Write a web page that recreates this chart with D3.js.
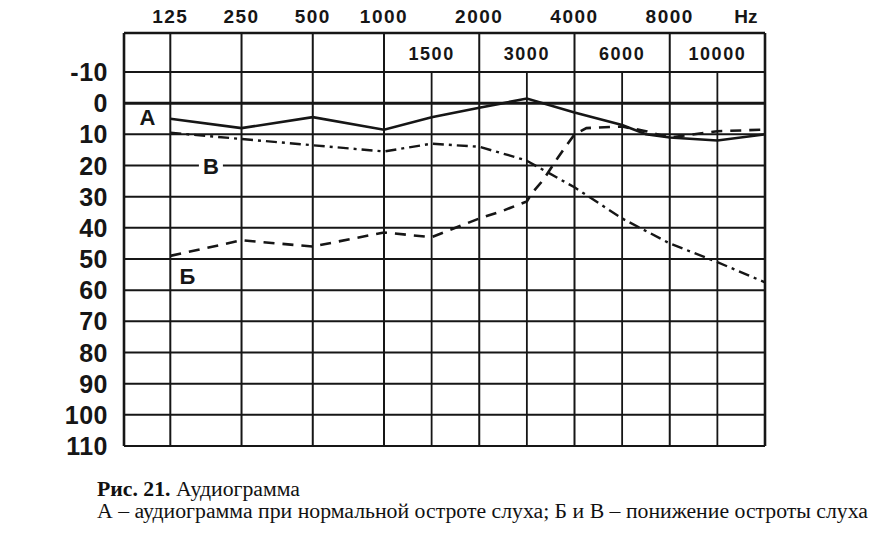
<!DOCTYPE html>
<html><head><meta charset="utf-8">
<script src="https://cdn.jsdelivr.net/npm/d3@7"></script>
<style>body{margin:0;background:#fff}</style>
</head><body><svg id="c" width="893" height="533"></svg>
<script>
// ---- data ----
const topFreqLabels = ["125","250","500","1000","2000","4000","8000"];
const topFreqs = [125,250,500,1000,2000,4000,8000];
const midFreqLabels = ["1500","3000","6000","10000"];
const midFreqs = [1500,3000,6000,10000];
const dbTicks = [-10,0,10,20,30,40,50,60,70,80,90,100,110];
const dbTickLabels = ["-10","0","10","20","30","40","50","60","70","80","90","100","110"];
const unitLabel = "Hz";

// curve А (normal hearing) - solid
const freqA = [125,250,500,1000,1500,2000,3000,4000,6000,7000,8000,10000,12000];
const dbA   = [5,8,4.5,8.5,4.5,1.5,-1.5,3,7,10,11,12,10];
// curve Б - dashed
const freqB = [125,250,500,643,1000,1500,2000,2500,3000,3100,3350,3650,4000,4500,6000,7000,8000,10000,12000];
const dbB   = [49,44,46,44.7,41.5,43,37,34.5,31.5,29,24.5,17.5,10,8,7.5,9,11,9,8.5];
// curve В - dash-dot
const freqV = [125,250,500,1000,1500,2000,2800,3000,4000,6000,8000,10000,12000];
const dbV   = [9.5,11.5,13.5,15.5,13,14,17.5,18.5,27,37,45,51,57.5];

const captionTitleBold = "Рис. 21.";
const captionTitle = " Аудиограмма";
const captionText = "А – аудиограмма при нормальной остроте слуха; Б и В – понижение остроты слуха";

// ---- scales ----
const colFreqs = [125,250,500,1000,1500,2000,3000,4000,6000,8000,10000,12000];
const colUnits = [0,1,2,3,3.5,4,4.5,5,5.5,6,6.5,7];
const u = d3.scaleLinear().domain([-0.65,3,7]).range([124,384,765]);
const x = d3.scaleLinear().domain(colFreqs).range(colUnits.map(u));
const y = d3.scaleLinear().domain([-10,110]).range([72,446]);
const gLeft = u(-0.65), gRight = u(7), gTop = 33, gBottom = y(110);

const svg = d3.select("#c");
svg.append("rect").attr("width",893).attr("height",533).attr("fill","#fff");
const ink = "#161616";
const g = svg.append("g");

// horizontal grid
g.selectAll("line.h").data(dbTicks).join("line")
  .attr("x1",gLeft).attr("x2",gRight)
  .attr("y1",d=>y(d)).attr("y2",d=>y(d))
  .attr("stroke",ink).attr("stroke-width",d=>d===0?3:2);
// top border
g.append("line").attr("x1",gLeft).attr("x2",gRight).attr("y1",gTop).attr("y2",gTop)
  .attr("stroke",ink).attr("stroke-width",2.5);
// major verticals
g.selectAll("line.v").data(topFreqs).join("line")
  .attr("x1",d=>x(d)).attr("x2",d=>x(d)).attr("y1",gTop).attr("y2",gBottom)
  .attr("stroke",ink).attr("stroke-width",2);
// mid verticals
g.selectAll("line.m").data(midFreqs).join("line")
  .attr("x1",d=>x(d)).attr("x2",d=>x(d)).attr("y1",y(-10)).attr("y2",gBottom)
  .attr("stroke",ink).attr("stroke-width",1.8);
// borders
[gLeft,gRight].forEach(xx=>g.append("line").attr("x1",xx).attr("x2",xx).attr("y1",gTop).attr("y2",gBottom)
  .attr("stroke",ink).attr("stroke-width",2.6));

// top labels
const lab = svg.append("g").attr("font-family","Liberation Sans, Arial, sans-serif")
  .attr("font-weight","bold").attr("fill",ink);
lab.selectAll("text.t").data(topFreqs).join("text")
  .attr("x",d=>x(d)).attr("y",23).attr("text-anchor","middle")
  .attr("font-size",19).attr("letter-spacing",1.5)
  .text((d,i)=>topFreqLabels[i]);
lab.append("text").attr("x",u(6.8)).attr("y",23).attr("text-anchor","middle")
  .attr("font-size",19).text(unitLabel);
lab.selectAll("text.m").data(midFreqs).join("text")
  .attr("x",d=>x(d)).attr("y",(gTop+y(-10))/2+7).attr("text-anchor","middle")
  .attr("font-size",18).attr("letter-spacing",1.5)
  .text((d,i)=>midFreqLabels[i]);
// y labels
lab.selectAll("text.y").data(dbTicks).join("text")
  .attr("x",108).attr("y",d=>y(d)+9).attr("text-anchor","end")
  .attr("font-size",25).attr("letter-spacing",0.5)
  .text((d,i)=>dbTickLabels[i]);

// curves
const line = d3.line().x(d=>x(d[0])).y(d=>y(d[1])).curve(d3.curveLinear);
const ptsA = freqA.map((f,i)=>[f,dbA[i]]);
const ptsB = freqB.map((f,i)=>[f,dbB[i]]);
const ptsV = freqV.map((f,i)=>[f,dbV[i]]);
svg.append("path").attr("d",line(ptsV)).attr("fill","none").attr("stroke",ink)
  .attr("stroke-width",2.4).attr("stroke-dasharray","11 5 3 5");
svg.append("path").attr("d",line(ptsB)).attr("fill","none").attr("stroke",ink)
  .attr("stroke-width",2.6).attr("stroke-dasharray","11 8");
svg.append("path").attr("d",line(ptsA)).attr("fill","none").attr("stroke",ink)
  .attr("stroke-width",2.6);

// curve labels
const cl = svg.append("g").attr("font-family","Liberation Sans, Arial, sans-serif")
  .attr("font-weight","bold").attr("font-size",22).attr("fill",ink).attr("text-anchor","middle");
function curveLabel(txt, fx, db){
  const cx = u(fx), cy = y(db);
  cl.append("rect").attr("x",cx-12).attr("y",cy-10).attr("width",24).attr("height",20).attr("fill","#fff");
  cl.append("text").attr("x",cx).attr("y",cy+8).text(txt);
}
curveLabel("А",-0.32,4.5);
curveLabel("В",0.57,20);
curveLabel("Б",0.24,55.5);

// caption
const cap = svg.append("g").attr("font-family","Liberation Serif, Times New Roman, serif").attr("fill","#111");
const t1 = cap.append("text").attr("x",97).attr("y",496).attr("font-size",20)
  .attr("textLength",203).attr("lengthAdjust","spacingAndGlyphs");
t1.append("tspan").attr("font-weight","bold").text(captionTitleBold);
t1.append("tspan").text(captionTitle);
cap.append("text").attr("x",97).attr("y",518).attr("font-size",20)
  .attr("textLength",771).attr("lengthAdjust","spacingAndGlyphs").text(captionText);
</script></body></html>
